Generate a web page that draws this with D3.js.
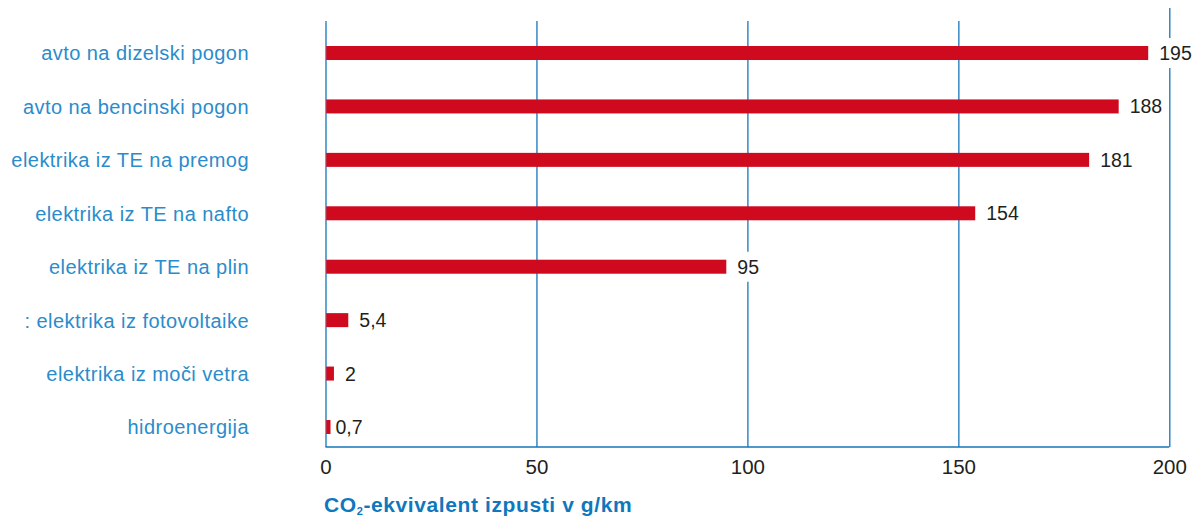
<!DOCTYPE html>
<html>
<head>
<meta charset="utf-8">
<script src="https://cdn.jsdelivr.net/npm/d3@7"></script>
<style>
  body { margin: 0; background: #fff; }
  svg { font-family: "Liberation Sans", Arial, sans-serif; }
  .cat { fill: #2a8ccb; font-size: 20px; letter-spacing: 0.45px; }
  .val { fill: #231f20; font-size: 19.5px; }
  .tick text { fill: #231f20; font-size: 20.5px; }
  .tick line, .domain { stroke: #1576bb; stroke-width: 1.3; }
  .title { fill: #0f78bd; font-size: 21px; font-weight: bold; letter-spacing: 0.6px; }
</style>
</head>
<body>
<svg id="chart" width="1199" height="518"></svg>
<script>
// data
const categories = [
    "avto na dizelski pogon",
    "avto na bencinski pogon",
    "elektrika iz TE na premog",
    "elektrika iz TE na nafto",
    "elektrika iz TE na plin",
    ": elektrika iz fotovoltaike",
    "elektrika iz moči vetra",
    "hidroenergija"
];
const emissions = [195, 188, 181, 154, 95, 5.4, 2, 0.7];
const xTicks = [0, 50, 100, 150, 200];

const svg = d3.select("#chart");
const margin = { top: 21, left: 325.5, right: 29.7, bottom: 71 };
const width = +svg.attr("width");
const height = +svg.attr("height");
const innerW = width - margin.left - margin.right;
const innerH = height - margin.top - margin.bottom;

const g = svg.append("g").attr("transform", `translate(${margin.left},${margin.top})`);

const x = d3.scaleLinear().domain([0, 200]).range([0, innerW]);
const y = d3.scalePoint().domain(categories).range([5.3, 432.7]).padding(0.5);
const barH = 14;
const minBar = 5;

const locale = d3.formatLocale({ decimal: ",", thousands: ".", grouping: [3], currency: ["", "€"] });
const fmt = v => Number.isInteger(v) ? String(v) : locale.format(".1f")(v);

// grid + axis
const xAxis = g.append("g")
    .attr("transform", `translate(0,${innerH})`)
    .call(d3.axisBottom(x).tickValues(xTicks).tickSize(-innerH).tickSizeOuter(0).tickPadding(12).tickFormat(d3.format("d")));
xAxis.select(".domain").attr("d", `M0,0H${innerW}`);
// the last grid line sticks up a bit further in the original
xAxis.selectAll(".tick line").filter(d => d === 200).attr("y2", -innerH - 13);

// bars
g.selectAll("rect.bar")
    .data(emissions)
    .enter()
    .append("rect")
    .attr("class", "bar")
    .attr("x", 0.7)
    .attr("y", (d, i) => y(categories[i]) - barH / 2)
    .attr("width", d => Math.max(x(d), minBar) - 0.7)
    .attr("height", barH)
    .attr("fill", "#cf0a1f");

// value labels with white knock-out behind them
const labels = g.selectAll("g.val")
    .data(emissions)
    .enter()
    .append("g")
    .attr("class", "val")
    .attr("transform", (d, i) => `translate(${Math.max(x(d), minBar) + (d < 1 ? 3 : 9)},${y(categories[i])})`);

labels.append("text")
    .attr("x", 2)
    .attr("dy", "0.36em")
    .text(d => fmt(d));

labels.each(function () {
    const grp = d3.select(this);
    const bb = grp.select("text").node().getBBox();
    grp.insert("rect", "text")
        .attr("x", bb.x - 2)
        .attr("y", bb.y - 4)
        .attr("width", bb.width + 4)
        .attr("height", bb.height + 8)
        .attr("fill", "#fff");
});

// category labels
svg.append("g").selectAll("text")
    .data(categories)
    .enter()
    .append("text")
    .attr("class", "cat")
    .attr("x", 249)
    .attr("y", d => margin.top + y(d))
    .attr("dy", "0.37em")
    .attr("text-anchor", "end")
    .text(d => d);

// axis title
const title = svg.append("text")
    .attr("class", "title")
    .attr("x", 324)
    .attr("y", 512);
title.append("tspan").text("CO");
title.append("tspan").attr("font-size", "11px").attr("dy", 2.5).text("2");
title.append("tspan").attr("dy", -2.5).text("-ekvivalent izpusti v g/km");
</script>
</body>
</html>
